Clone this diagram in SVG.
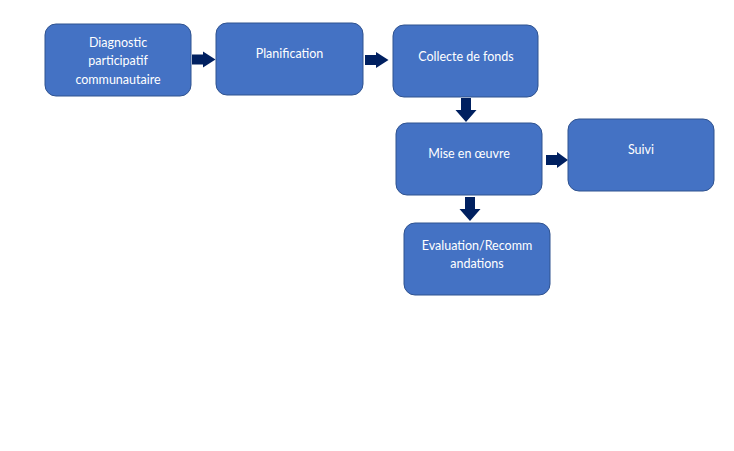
<svg xmlns="http://www.w3.org/2000/svg" width="734" height="451" viewBox="0 0 734 451">
  <style>
    .box { fill: #4472C4; stroke: #2F528F; stroke-width: 1; }
    .lbl { fill: #FFFFFF; font-family: Lato, "Open Sans", "Liberation Sans", sans-serif; font-size: 12.5px; text-anchor: middle; }
    .arrow { fill: #002060; }
  </style>
  <rect width="734" height="451" fill="#FFFFFF"/>

  <g id="connectors">
    <!-- right arrows -->
    <polygon class="arrow" points="192,54.5 203,54.5 203,51.5 215.5,59.5 203,67.5 203,64.5 192,64.5"/>
    <polygon class="arrow" points="365,55 376,55 376,52 388.5,60 376,68 376,65 365,65"/>
    <polygon class="arrow" points="546,155 557,155 557,152 568,160 557,168 557,165 546,165"/>
    <!-- down arrows -->
    <polygon class="arrow" points="461,98 471,98 471,110 476.5,110 466,122 455.5,110 461,110"/>
    <polygon class="arrow" points="465,197 475,197 475,209 480.5,209 470,221 459.5,209 465,209"/>
  </g>

  <g id="diagnostic">
    <rect class="box" x="45" y="24" width="146" height="72" rx="11"/>
    <text class="lbl" x="118" y="46.5">Diagnostic</text>
    <text class="lbl" x="118" y="65">participatif</text>
    <text class="lbl" x="118" y="83.5">communautaire</text>
  </g>

  <g id="planification">
    <rect class="box" x="216" y="23" width="147" height="72" rx="11"/>
    <text class="lbl" x="289.5" y="57.5">Planification</text>
  </g>

  <g id="collecte">
    <rect class="box" x="393" y="25" width="145" height="72" rx="11"/>
    <text class="lbl" x="466" y="60.5">Collecte de fonds</text>
  </g>

  <g id="mise-en-oeuvre">
    <rect class="box" x="396" y="123" width="146" height="72" rx="11"/>
    <text class="lbl" x="469" y="157.5">Mise en œuvre</text>
  </g>

  <g id="suivi">
    <rect class="box" x="568" y="119" width="146" height="72" rx="11"/>
    <text class="lbl" x="641" y="154">Suivi</text>
  </g>

  <g id="evaluation">
    <rect class="box" x="404" y="223" width="146" height="72" rx="11"/>
    <text class="lbl" x="477" y="250">Evaluation/Recomm</text>
    <text class="lbl" x="477" y="268">andations</text>
  </g>
</svg>
